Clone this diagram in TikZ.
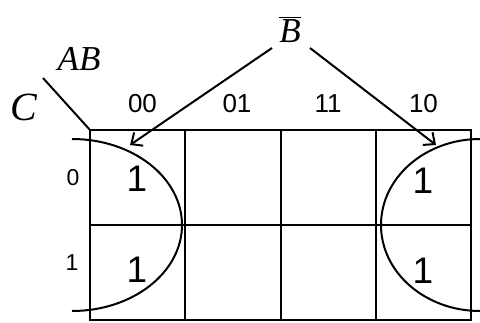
\documentclass[tikz,border=0pt]{standalone}
\usepackage{fontspec}
\setmainfont{Liberation Serif}
\newfontfamily\sansf{Liberation Sans}
\usetikzlibrary{arrows.meta}
\tikzset{
  grid/.style={line width=2pt},
  curve/.style={line width=2pt},
  arr/.style={line width=2pt,-{Straight Barb[length=9pt,width=16pt,line width=2pt]}},
  collab/.style={inner sep=0pt,font=\sansf\fontsize{26}{26}\selectfont},
  rowlab/.style={inner sep=0pt,font=\sansf\fontsize{23}{23}\selectfont},
  one/.style={inner sep=0pt,font=\sansf\fontsize{37}{37}\selectfont},
  var/.style={inner sep=0pt,font=\itshape\fontsize{35}{35}\selectfont},
}
\begin{document}
\begin{tikzpicture}[x=1pt,y=-1pt]
\useasboundingbox (0,0) rectangle (480,322);
% grid
\coordinate (g0) at (90,130);
\coordinate (g1) at (471,320);
\draw[grid] (g0) rectangle (g1);
\draw[grid] (185,130) -- (185,320);
\draw[grid] (281,130) -- (281,320);
\draw[grid] (376,130) -- (376,320);
\draw[grid] (90,225) -- (471,225);
% corner diagonal
\coordinate (d0) at (43,78);
\draw[grid] (d0) -- (g0);
% labels
\node[var] (ab) at (79,58.5) {AB};
\node[var,font=\itshape\fontsize{40}{40}\selectfont] (c) at (23.5,107) {C};
\node[var,anchor=base,font=\itshape\fontsize{35}{35}\selectfont] (bbar) at (290,42) {$\overline{\mbox{\itshape B}}$};
\node[collab] (l00) at (142.5,104) {00};
\node[collab] (l01) at (237,104) {01};
\node[collab] (l11) at (328,104) {11};
\node[collab] (l10) at (423.5,104) {10};
\node[rowlab] (r0) at (73,178) {0};
\node[rowlab] (r1) at (72,263) {1};
\node[one] (m0) at (137,179) {1};
\node[one] (m1) at (137,270) {1};
\node[one] (m4) at (423,181) {1};
\node[one] (m5) at (423,271) {1};
% curves
\draw[curve] (72,139) arc[start angle=-90,end angle=90,x radius=110,y radius=86];
\draw[curve] (480,139) arc[start angle=-90,end angle=-270,x radius=99,y radius=86];
% arrows
\coordinate (s1) at (272,48);
\coordinate (s2) at (310,48);
\coordinate (t1) at (130,145);
\coordinate (t2) at (436,145);
\draw[arr] (s1) -- (t1);
\draw[arr] (s2) -- (t2);
\end{tikzpicture}
\end{document}
